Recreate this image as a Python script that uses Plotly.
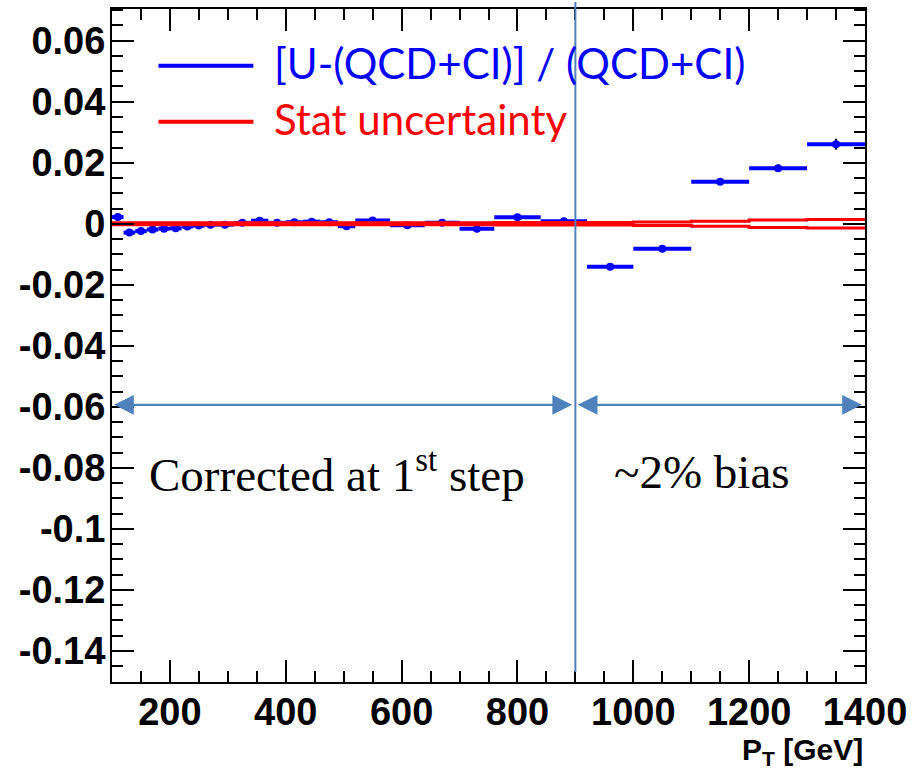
import plotly.graph_objects as go

# ---------------- data ----------------
bin_edges = [100, 120, 140, 160, 180, 200, 220, 240, 260, 280, 310, 340, 370, 400, 430,
             460, 490, 520, 580, 640, 700, 760, 840, 920, 1000, 1100, 1200, 1300, 1400]
ratio = [0.0022, -0.0029, -0.0024, -0.0019, -0.0016, -0.0015, -0.0009, -0.0006, -0.0003,
         -0.0003, 0.0003, 0.0010, 0.0003, 0.0005, 0.0007, 0.0005, -0.0008, 0.0011,
         -0.0005, 0.0003, -0.0016, 0.0021, 0.0008, -0.0141, -0.0082, 0.0138, 0.0182, 0.0261]
ratio_err = [0.0003] * 23 + [0.0005, 0.0006, 0.0009, 0.0012, 0.0018]
stat_unc = [0.0003] * 20 + [0.0003, 0.0004, 0.0004, 0.0004, 0.0006, 0.0008, 0.0012, 0.0014]

x_ticks = [200, 400, 600, 800, 1000, 1200, 1400]
x_ticktext = ["200", "400", "600", "800", "1000", "1200", "1400"]
y_ticks = [0.06, 0.04, 0.02, 0, -0.02, -0.04, -0.06, -0.08, -0.1, -0.12, -0.14]
y_ticktext = ["0.06", "0.04", "0.02", "0", "-0.02", "-0.04", "-0.06", "-0.08", "-0.1", "-0.12", "-0.14"]

legend_labels = ["[U-(QCD+CI)] / (QCD+CI)", "Stat uncertainty"]
split_pt = 900
region_labels = ["Corrected at 1<sup>st</sup> step", "~2% bias"]

# ---------------- derived ----------------
centers = [(a + b) / 2 for a, b in zip(bin_edges[:-1], bin_edges[1:])]
half_w = [(b - a) / 2 for a, b in zip(bin_edges[:-1], bin_edges[1:])]
step_x = bin_edges
up_y = stat_unc + [stat_unc[-1]]
dn_y = [-v for v in stat_unc] + [-stat_unc[-1]]

W, H = 915, 771
L, R, T, B = 111.5, 865, 7, 682
XR = [100, 1400]
YR = [-0.1502, 0.0704]

def px2x(px):
    return XR[0] + (px - L) / (R - L) * (XR[1] - XR[0])

def px2y(py):
    return YR[1] - (py - T) / (B - T) * (YR[1] - YR[0])

def py2paper(py):
    return (B - py) / (B - T)

BLUE = "#0000ff"
RED = "#ff0000"
SB = "#4f81bd"

fig = go.Figure()

fig.add_trace(go.Scatter(
    x=centers, y=ratio, mode="markers",
    marker=dict(color=BLUE, size=8, symbol="circle"),
    error_x=dict(type="data", array=half_w, symmetric=True, color=BLUE, thickness=4, width=0),
    error_y=dict(type="data", array=ratio_err, symmetric=True, color="#000022", thickness=2, width=0),
    showlegend=False, cliponaxis=True,
))
fig.add_trace(go.Scatter(x=step_x, y=up_y, mode="lines", line=dict(color=RED, width=3, shape="hv"),
                         showlegend=False))
fig.add_trace(go.Scatter(x=step_x, y=dn_y, mode="lines", line=dict(color=RED, width=3, shape="hv"),
                         showlegend=False))

shapes = []
annotations = []

# legend
leg_rows = [(64, BLUE), (120, RED)]
for (py, col), lab in zip(leg_rows, legend_labels):
    shapes.append(dict(type="line", xref="x", yref="y", x0=px2x(158), x1=px2x(253),
                       y0=px2y(py), y1=px2y(py), line=dict(color=col, width=4)))
    annotations.append(dict(x=px2x(272), y=px2y(py - 3), xref="x", yref="y", text=lab,
                            showarrow=False, xanchor="left", yanchor="middle",
                            font=dict(family="Lato", size=42, color=col)))

# vertical separator
shapes.append(dict(type="line", xref="x", yref="paper", x0=split_pt, x1=split_pt,
                   y0=py2paper(0), y1=py2paper(672), line=dict(color=SB, width=2)))

# arrows
arrow_y = px2y(404)
for x0, x1 in [(px2x(112), px2x(572)), (px2x(576), px2x(862))]:
    annotations.append(dict(x=x1, y=arrow_y, ax=x0, ay=arrow_y, xref="x", yref="y",
                            axref="x", ayref="y", text="", showarrow=True,
                            arrowhead=2, startarrowhead=2, arrowside="end+start",
                            arrowsize=1.8, startarrowsize=1.8, arrowwidth=2.2, arrowcolor=SB))

# region labels
SERIF = dict(family="Liberation Serif", size=47, color="black")
annotations.append(dict(x=px2x(337), y=px2y(471), xref="x", yref="y", text=region_labels[0],
                        showarrow=False, font=SERIF))
annotations.append(dict(x=px2x(702), y=px2y(471), xref="x", yref="y", text=region_labels[1],
                        showarrow=False, font=SERIF))

# axis title
annotations.append(dict(x=1.0, y=-(752 - B) / (B - T), xref="paper", yref="paper",
                        text="<b>P<sub>T</sub> [GeV]</b>", showarrow=False, xanchor="right",
                        yanchor="middle",
                        font=dict(family="Liberation Sans", size=30, color="black")))

TICKFONT = dict(family="Liberation Sans", size=38, color="black", weight="bold")

fig.update_layout(
    width=W, height=H,
    margin=dict(l=L, r=W - R, t=T, b=H - B, pad=0),
    paper_bgcolor="white", plot_bgcolor="white",
    shapes=shapes, annotations=annotations,
    xaxis=dict(range=XR, tickmode="array", tickvals=x_ticks, ticktext=x_ticktext,
               ticks="inside", ticklen=22, tickwidth=1.5, tickcolor="black",
               showline=True, linecolor="black", linewidth=2, mirror="allticks",
               showgrid=False, zeroline=False, tickfont=TICKFONT, ticklabelstandoff=-5,
               minor=dict(tickmode="linear", tick0=0, dtick=50, ticks="inside", ticklen=11,
                          tickwidth=1.5, tickcolor="black", showgrid=False)),
    yaxis=dict(range=YR, tickmode="array", tickvals=y_ticks, ticktext=y_ticktext,
               ticks="inside", ticklen=22, tickwidth=1.5, tickcolor="black",
               showline=True, linecolor="black", linewidth=2, mirror="allticks",
               showgrid=False, zeroline=False, tickfont=TICKFONT, ticklabelstandoff=-3,
               minor=dict(tickmode="linear", tick0=0, dtick=0.005, ticks="inside", ticklen=11,
                          tickwidth=1.5, tickcolor="black", showgrid=False)),
)

fig.write_html("out.html")
